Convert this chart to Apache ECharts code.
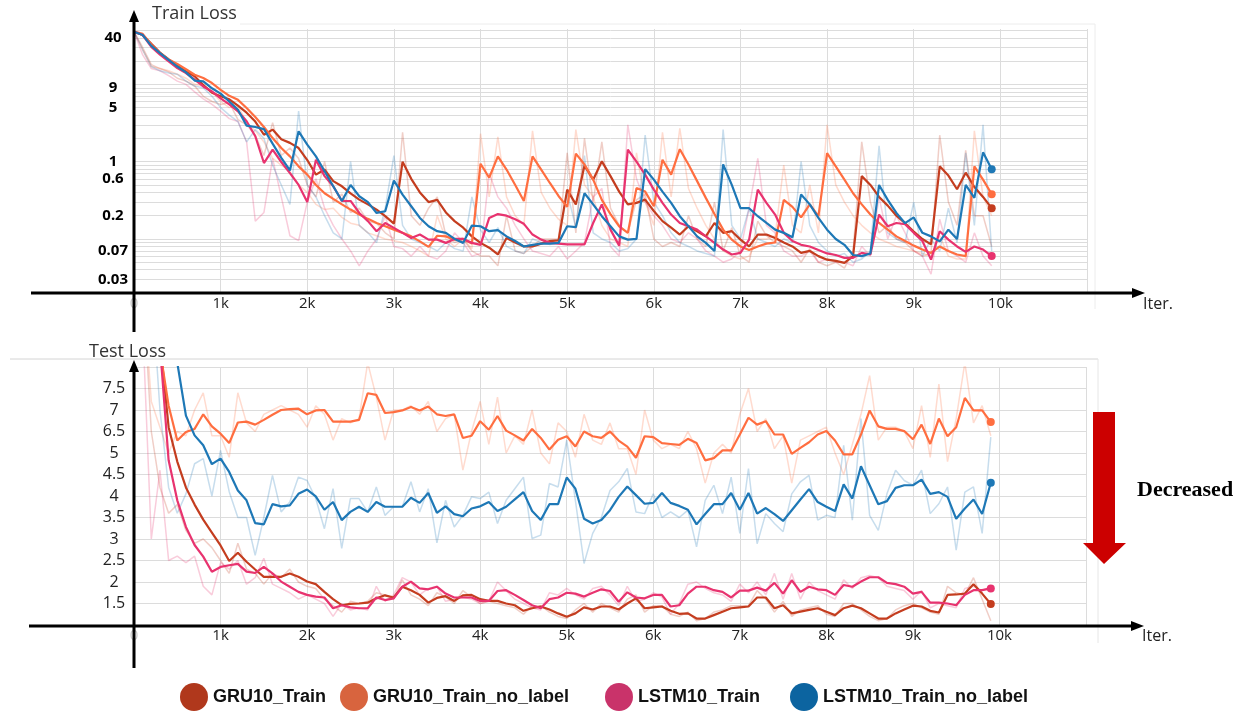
<!DOCTYPE html>
<html>
<head>
<meta charset="utf-8">
<script src="https://cdn.jsdelivr.net/npm/echarts@6/dist/echarts.min.js"></script>
<style>
html,body{margin:0;padding:0;background:#fff;}
#chart{width:1248px;height:713px;}
</style>
</head>
<body>
<div id="chart"></div>
<script>
// ---------------- DATA ----------------
const ITER_STEP = 100; // one logged point every 100 iterations
const seriesNames = ['GRU10_Train', 'GRU10_Train_no_label', 'LSTM10_Train', 'LSTM10_Train_no_label'];
const xTickLabels = ['0', '1k', '2k', '3k', '4k', '5k', '6k', '7k', '8k', '9k', '10k'];
const topYTickValues = [40, 9, 5, 1, 0.6, 0.2, 0.07, 0.03];
const topGridValues = [0.03, 0.04, 0.05, 0.06, 0.07, 0.08, 0.09, 0.1, 0.2, 0.3, 0.4, 0.5, 0.6, 0.7, 0.8, 0.9,
  1, 2, 3, 4, 5, 6, 7, 8, 9, 10, 20, 30, 40, 50];
const bottomYTickLabels = ['1.5', '2', '2.5', '3', '3.5', '4', '4.5', '5', '6.5', '7', '7.5'];

// Train loss (smoothed)
const topGRU = [48,43.5,33.4,25.8,21,17.4,14.7,12.7,9.8,7.8, 7.0,6.4,5.3,4.3,3.3,2.23,2.6,1.95,1.75,1.5,
  1.05,0.68,0.79,0.56,0.48,0.39,0.323,0.28,0.24,0.197, 0.158,1.0,0.6,0.40,0.30,0.32,0.22,0.17,0.14,0.108,
  0.089,0.077,0.063,0.103,0.09,0.08,0.08,0.087,0.094,0.096, 0.435,0.28,0.89,0.585,1.01,0.65,0.41,0.28,0.293,0.323,
  0.23,0.17,0.14,0.114,0.146,0.126,0.108,0.161,0.12,0.126, 0.098,0.08,0.114,0.114,0.103,0.09,0.08,0.066,0.07,0.06,
  0.054,0.052,0.049,0.06,0.65,0.5,0.35,0.27,0.2,0.16, 0.125,0.1,0.085,0.87,0.66,0.44,0.72,0.47,0.35,0.25];
const topGRUNoLabel = [48,45,32.5,25.3,21,18.3,15.7,13.3,12.1,10.4, 8.5,7.1,6.3,4.95,3.78,2.81,2.02,1.5,1.17,0.87,
  0.68,0.5,0.39,0.33,0.28,0.24,0.207,0.182,0.161,0.146, 0.132,0.12,0.108,0.093,0.079,0.11,0.108,0.098,0.10,0.087,
  0.94,0.62,1.17,0.79,0.50,0.31,1.17,0.79,0.53,0.36, 0.26,1.27,0.92,0.585,0.32,0.21,0.146,0.12,0.455,0.41,
  0.265,1.06,0.68,1.45,0.92,0.56,0.34,0.21,0.132,0.098, 0.08,0.072,0.08,0.087,0.09,0.32,0.26,0.19,0.28,0.197,
  1.29,0.87,0.585,0.39,0.28,0.207,0.161,0.132,0.108,0.094, 0.082,0.073,0.066,0.08,0.07,0.063,0.06,0.87,0.585,0.38];
const topLSTM = [48,43.5,30.5,24.2,19.8,16.2,14.0,11.5,9.4,8.1, 6.6,5.5,4.48,3.33,2.13,0.96,1.43,0.99,0.71,0.50,
  0.30,1.06,0.65,0.48,0.31,0.31,0.217,0.17,0.126,0.161, 0.139,0.12,0.103,0.114,0.098,0.098,0.089,0.1,0.1,0.089,
  0.084,0.187,0.21,0.2,0.18,0.157,0.114,0.098,0.089,0.087, 0.085,0.085,0.085,0.161,0.28,0.132,0.082,1.43,1.0,0.68,
  0.435,0.293,0.207,0.161,0.146,0.132,0.108,0.089,0.073,0.063, 0.066,0.098,0.435,0.293,0.207,0.12,0.094,0.084,0.08,0.072,
  0.065,0.062,0.057,0.057,0.066,0.063,0.207,0.146,0.161,0.155, 0.12,0.094,0.054,0.126,0.098,0.08,0.068,0.08,0.073,0.06];
const topLSTMNoLabel = [48,43.5,31.5,25.3,20.8,17,14.3,11.2,10.9,8.9, 7.6,6.0,4.7,2.92,2.81,2.64,1.71,1.12,0.77,2.47,
  1.66,1.17,0.75,0.48,0.31,0.50,0.357,0.30,0.217,0.228, 0.57,0.375,0.265,0.187,0.146,0.126,0.12,0.1,0.089,0.149,
  0.146,0.126,0.13,0.108,0.094,0.08,0.084,0.087,0.087,0.089, 0.146,0.142,0.39,0.28,0.197,0.146,0.108,0.098,0.1,0.8,
  0.585,0.41,0.293,0.197,0.146,0.108,0.089,0.07,0.92,0.5, 0.25,0.25,0.197,0.161,0.132,0.12,0.105,0.375,0.28,0.187,
  0.132,0.1,0.084,0.062,0.06,0.065,0.5,0.32,0.217,0.16, 0.19,0.12,0.108,0.093,0.132,0.1,0.5,0.34,1.32,0.8];

// Train loss (raw, faint)
const topGRURaw = [48,30,18,16,14.5,12,11,9.5,7,6, 5.5,5.8,3.5,3,2.2,1.2,3.2,1.2,1.5,1.1,
  0.5,0.35,1.0,0.3,0.38,0.22,0.25,0.17,0.16,0.12, 0.1,2.4,0.2,0.15,0.25,0.35,0.11,0.09,0.1,0.07,
  0.06,0.06,0.045,0.2,0.07,0.065,0.08,0.1,0.1,0.1, 1.3,0.12,2.0,0.3,1.8,0.25,0.15,0.12,0.32,0.38,
  0.1,0.08,0.09,0.08,0.2,0.1,0.08,0.3,0.07,0.14, 0.06,0.05,0.17,0.11,0.09,0.08,0.07,0.05,0.075,0.05,
  0.045,0.05,0.042,0.07,1.8,0.3,0.12,0.15,0.1,0.09, 0.07,0.06,0.065,2.2,0.3,0.15,1.4,0.2,0.2,0.08];
const topGRUNoLabelRaw = [48,28,17,16,15,13.5,12,10,9.5,8, 6,5,5.3,3.2,2.5,1.8,1.1,0.9,0.75,0.5,
  0.4,0.28,0.24,0.25,0.19,0.16,0.15,0.12,0.11,0.1, 0.095,0.09,0.08,0.07,0.06,0.2,0.1,0.08,0.1,0.075,
  2.3,0.35,2.1,0.35,0.2,0.15,2.5,0.4,0.25,0.18, 0.15,2.6,0.5,0.35,0.15,0.1,0.09,0.08,1.3,0.3,
  0.15,2.4,0.35,2.7,0.45,0.25,0.15,0.1,0.07,0.06, 0.055,0.06,0.1,0.1,0.11,0.9,0.15,0.12,0.5,0.12,
  3.0,0.5,0.3,0.2,0.15,0.12,0.1,0.09,0.08,0.075, 0.07,0.065,0.06,0.11,0.06,0.055,0.055,2.5,0.35,0.2];
const topLSTMRaw = [48,24,16,15,13,11,10,8,6.5,5.5, 4.5,3.6,3.3,1.8,0.17,0.22,1.1,0.35,0.11,0.095,
  0.3,0.6,0.25,0.15,0.1,0.07,0.045,0.07,0.1,0.2, 0.08,0.075,0.06,0.08,0.06,0.055,0.07,0.12,0.09,0.06,
  0.065,0.7,0.35,0.25,0.15,0.1,0.07,0.065,0.06,0.08, 0.055,0.07,0.09,0.35,0.45,0.08,0.06,3.0,0.6,0.3,
  0.2,0.15,0.1,0.09,0.12,0.1,0.07,0.06,0.05,0.055, 0.07,0.25,1.1,0.15,0.12,0.07,0.06,0.06,0.07,0.05,
  0.055,0.05,0.05,0.045,0.08,0.06,0.35,0.1,0.2,0.12, 0.07,0.06,0.035,0.18,0.07,0.06,0.05,0.12,0.06,0.045];
const topLSTMNoLabelRaw = [48,28,17,15,14,13.5,11,9.5,9,7, 5,4,3.3,1.8,2.6,2.0,0.9,0.5,0.28,4.5,
  0.5,0.35,0.2,0.12,0.1,1.0,0.15,0.12,0.09,0.25, 1.2,0.15,0.1,0.09,0.08,0.07,0.09,0.075,0.07,0.35,
  0.13,0.09,0.14,0.08,0.07,0.065,0.1,0.09,0.085,0.09, 0.4,0.14,1.2,0.12,0.1,0.09,0.07,0.075,0.1,2.2,
  0.3,0.2,0.12,0.09,0.08,0.07,0.065,0.06,2.6,0.15, 0.1,0.25,0.1,0.09,0.08,0.1,0.09,1.0,0.15,0.09,
  0.07,0.06,0.065,0.05,0.055,0.07,1.6,0.12,0.1,0.09, 0.3,0.06,0.1,0.07,0.25,0.09,1.3,0.15,3.0,0.07];

// Test loss (smoothed)
const botGRU = [20,14,10,7.6,5.6,4.8,4.2,3.8,3.45,3.15, 2.85,2.49,2.68,2.47,2.29,2.12,2.12,2.12,2.2,2.12,
  2.01,1.95,1.77,1.6,1.46,1.49,1.5,1.52,1.62,1.69, 1.64,1.89,1.81,1.7,1.52,1.63,1.67,1.56,1.69,1.7,
  1.6,1.56,1.56,1.5,1.46,1.33,1.39,1.43,1.36,1.27, 1.19,1.27,1.41,1.36,1.43,1.43,1.36,1.5,1.62,1.39,
  1.41,1.43,1.33,1.26,1.27,1.15,1.15,1.23,1.31,1.39, 1.41,1.43,1.64,1.64,1.39,1.46,1.27,1.31,1.35,1.39,
  1.31,1.23,1.39,1.45,1.39,1.27,1.15,1.15,1.27,1.36, 1.45,1.43,1.33,1.29,1.7,1.71,1.73,1.95,1.73,1.49];
const botGRUNoLabel = [20,14,10,7.4,6.1,5.29,5.49,5.56,5.9,5.62, 5.45,5.23,5.71,5.73,5.66,5.77,5.89,6.0,6.02,6.03,
  5.9,5.99,6.0,5.73,5.73,5.73,5.77,6.39,6.35,5.93, 5.95,5.99,6.07,5.99,6.08,5.9,5.86,5.9,5.35,5.4,
  5.74,5.54,5.86,5.52,5.41,5.29,5.56,5.35,5.08,5.31, 5.39,5.15,5.5,5.39,5.35,5.5,5.29,5.15,4.89,5.39,
  5.37,5.23,5.21,5.19,5.33,5.23,4.83,4.88,5.06,5.06, 5.43,5.82,5.66,5.74,5.43,5.43,4.98,5.12,5.25,5.43,
  5.51,5.29,4.97,4.97,5.43,5.99,5.62,5.56,5.56,5.51, 5.32,5.66,5.21,5.8,5.39,5.6,6.28,5.99,5.99,5.72];
const botLSTM = [20,14,10,7.5,4.83,3.9,3.28,2.86,2.59,2.24, 2.35,2.39,2.42,2.24,2.21,2.35,2.2,2.01,1.89,1.77,
  1.7,1.66,1.64,1.39,1.46,1.41,1.39,1.39,1.64,1.58, 1.62,1.89,2.01,1.85,1.83,1.89,1.73,1.64,1.64,1.64,
  1.56,1.56,1.79,1.81,1.7,1.58,1.46,1.39,1.6,1.64, 1.75,1.73,1.66,1.75,1.83,1.79,1.54,1.76,1.64,1.62,
  1.7,1.7,1.43,1.46,1.73,1.89,1.89,1.81,1.77,1.64, 1.8,1.8,1.87,1.8,1.98,1.73,2.04,1.77,1.89,1.83,
  1.81,1.7,1.93,1.89,2.01,2.11,2.11,1.98,1.95,1.89, 1.73,1.77,1.52,1.52,1.5,1.46,1.7,1.81,1.81,1.85];
const botLSTMNoLabel = [30,20,14,11,9.5,7.1,5.87,5.41,5.18,4.74, 4.87,4.56,4.13,3.9,3.37,3.34,3.81,3.76,3.78,4.05,
  4.15,3.99,3.68,3.86,3.44,3.63,3.75,3.63,3.86,3.75, 3.75,3.75,3.96,3.84,4.07,3.61,3.76,3.58,3.53,3.71,
  3.76,3.86,3.65,3.75,3.92,4.09,3.65,3.44,3.81,3.81, 4.43,4.17,3.47,3.36,3.44,3.67,3.98,4.22,4.02,3.82,
  3.84,4.07,3.84,3.77,3.68,3.34,3.58,3.81,3.81,4.07, 3.68,4.07,3.59,3.72,3.58,3.42,3.67,3.92,4.16,3.86,
  3.75,3.65,4.27,3.94,4.69,4.25,3.81,3.88,4.19,4.25, 4.25,4.38,4.05,4.09,3.98,3.47,3.71,3.92,3.58,4.31];

// Test loss (raw, faint)
const botGRURaw = [20,9,5.5,4.2,3.6,3.8,3.2,2.9,3.0,2.8, 2.5,2.2,2.9,2.3,2.2,1.95,2.2,2.1,2.3,2.0,
  1.9,1.85,1.6,1.45,1.3,1.55,1.5,1.55,1.75,1.7, 1.6,2.05,1.7,1.6,1.45,1.75,1.65,1.5,1.8,1.65,
  1.5,1.55,1.5,1.45,1.4,1.25,1.45,1.45,1.3,1.2, 1.15,1.35,1.5,1.3,1.5,1.4,1.3,1.6,1.7,1.3,
  1.45,1.45,1.25,1.2,1.3,1.1,1.15,1.3,1.35,1.45, 1.45,1.45,1.8,1.6,1.3,1.55,1.2,1.35,1.4,1.45,
  1.25,1.2,1.5,1.5,1.35,1.2,1.1,1.15,1.35,1.45, 1.5,1.4,1.3,1.25,1.9,1.75,1.7,2.1,1.6,1.1];
const botGRUNoLabelRaw = [20,9,6.2,5.6,5.0,5.5,5.4,6.0,6.4,5.4, 5.4,4.9,6.4,5.7,5.5,5.9,6.0,6.1,6.0,5.9,
  5.6,6.1,5.9,5.3,5.8,5.7,5.8,7.1,6.3,5.3, 6.0,6.0,6.1,5.9,6.2,5.5,5.8,5.9,4.6,5.5,
  6.2,5.2,6.3,5.0,5.4,5.2,6.0,5.0,4.75,5.7, 5.5,4.9,5.9,5.3,5.2,5.7,5.1,5.1,4.5,6.0,
  5.3,5.1,5.2,5.1,5.5,5.1,4.3,5.0,5.2,5.0, 5.9,6.5,5.5,5.8,5.1,5.4,4.3,5.3,5.4,5.5,
  5.6,5.0,4.5,5.2,5.9,6.8,5.3,5.6,5.6,5.5, 5.1,6.1,4.9,6.6,4.8,5.8,7.1,5.7,6.1,5.4];
const botLSTMRaw = [20,8,3.0,4.6,2.5,2.6,2.45,2.6,1.9,1.7, 2.45,2.3,2.5,1.95,2.1,2.55,1.95,1.85,1.75,1.6,
  1.7,1.6,1.5,1.2,1.5,1.35,1.4,1.35,1.9,1.55, 1.7,2.1,2.0,1.7,1.85,1.9,1.55,1.6,1.65,1.6,
  1.5,1.55,2.0,1.8,1.6,1.5,1.4,1.35,1.75,1.7, 1.85,1.7,1.6,1.85,1.9,1.7,1.45,1.9,1.55,1.6,
  1.75,1.65,1.25,1.5,1.95,2.0,1.85,1.75,1.7,1.55, 1.95,1.75,2.0,1.7,2.2,1.6,2.2,1.6,2.0,1.8,
  1.7,1.6,2.05,1.85,2.1,2.15,2.1,1.9,1.85,1.8, 1.6,1.8,1.4,1.5,1.45,1.4,1.85,1.9,1.8,1.9];
const botLSTMNoLabelRaw = [30,15,9,6,4.2,3.6,4.05,4.75,4.87,4.0, 5.06,4.1,3.5,3.5,2.62,3.5,4.48,3.63,3.86,4.44,
  4.36,3.94,3.24,4.17,2.78,3.94,3.94,3.63,4.21,3.55, 3.75,3.75,4.33,3.63,4.17,2.91,3.9,3.28,3.55,3.98,
  3.94,4.09,3.36,3.9,4.17,4.44,3.01,3.09,4.29,4.21, 5.3,3.9,2.43,3.13,3.5,4.13,4.33,4.64,3.63,3.59,
  4.05,3.5,3.63,3.5,3.67,2.82,3.9,4.25,3.59,4.44, 3.13,4.64,2.89,3.59,3.36,3.17,4.05,4.33,4.48,3.44,
  3.55,3.5,5.18,3.44,5.8,3.55,3.2,4.05,4.6,4.36, 4.25,4.6,3.59,3.82,4.21,2.74,4.09,4.21,3.13,5.37];

// ---------------- STYLE / LAYOUT ----------------
const LINE_COLORS = ['#C43D1F', '#FF6E40', '#E8336F', '#1E78B6'];
const LEGEND_COLORS = ['#B0381C', '#D8643E', '#C9336A', '#0C64A0'];
const LEGEND_LEFT = [180, 340, 605, 790];
const GRIDS = [
  { left: 134, top: 29, width: 953, height: 264 },
  { left: 134, top: 367, width: 952, height: 258 }
];

const panels = [
  { smooth: [topGRU, topGRUNoLabel, topLSTM, topLSTMNoLabel],
    raw: [topGRURaw, topGRUNoLabelRaw, topLSTMRaw, topLSTMNoLabelRaw] },
  { smooth: [botGRU, botGRUNoLabel, botLSTM, botLSTMNoLabel],
    raw: [botGRURaw, botGRUNoLabelRaw, botLSTMRaw, botLSTMNoLabelRaw] }
];

function toPairs(vals) { return vals.map((v, i) => [i * ITER_STEP, v]); }

const series = [];
// helper series carrying the log-scale grid lines of the top panel
series.push({
  type: 'line', xAxisIndex: 0, yAxisIndex: 0, data: [[0, 0.03]], showSymbol: false,
  lineStyle: { opacity: 0 }, silent: true, z: 1,
  markLine: {
    z: 1, silent: true, symbol: ['none', 'none'], animation: false,
    label: { show: false },
    lineStyle: { color: '#dcdcdc', width: 1, type: 'solid' },
    emphasis: { disabled: true },
    data: topGridValues.map(v => ({ yAxis: v }))
  }
});
// helper series carrying the tick labels of the top (log) axis
series.push({
  type: 'line', xAxisIndex: 0, yAxisIndex: 0, data: [[0, 0.03]], showSymbol: false,
  lineStyle: { opacity: 0 }, silent: true, z: 1,
  markLine: {
    z: 1, silent: true, symbol: ['none', 'none'], animation: false,
    lineStyle: { color: 'rgba(0,0,0,0)', width: 0, type: 'solid' },
    emphasis: { disabled: true },
    label: { show: true, position: 'start', distance: 21, align: 'center', formatter: '{b}',
      fontFamily: 'Noto Sans', fontWeight: 'bold', fontSize: 15, color: '#000', opacity: 1 },
    data: topYTickValues.map(v => ({ yAxis: v, name: String(v) }))
  }
});

panels.forEach((p, k) => {
  p.raw.forEach((vals, s) => {
    series.push({
      name: seriesNames[s], type: 'line', xAxisIndex: k, yAxisIndex: k,
      data: toPairs(vals), showSymbol: false, z: 2, silent: true,
      lineStyle: { width: 1.5, color: LINE_COLORS[s], opacity: 0.25 },
      itemStyle: { color: LINE_COLORS[s] }
    });
  });
  p.smooth.forEach((vals, s) => {
    const last = vals.length - 1;
    series.push({
      name: seriesNames[s], type: 'line', xAxisIndex: k, yAxisIndex: k,
      data: toPairs(vals), showSymbol: true, showAllSymbol: true, symbol: 'circle',
      symbolSize: (v, prm) => (prm.dataIndex === last ? 8 : 0),
      z: 3, silent: true,
      lineStyle: { width: 2.2, color: LINE_COLORS[s] },
      itemStyle: { color: LINE_COLORS[s] }
    });
  });
});

function xAxisFor(k) {
  return {
    gridIndex: k, type: 'value', min: 0, max: 11000, interval: 1000,
    axisLine: { show: false }, axisTick: { show: false },
    splitLine: { show: true, lineStyle: { color: '#dcdcdc', width: 1 } },
    axisLabel: {
      margin: 3, fontSize: 15, color: '#222', fontFamily: 'Open Sans',
      showMaxLabel: false,
      formatter: v => {
        const idx = Math.round(v / 1000);
        if (idx === 0) return '{z|' + xTickLabels[0] + '}';
        return xTickLabels[idx] !== undefined ? xTickLabels[idx] : '';
      },
      rich: { z: { color: '#c8c8c8', fontSize: 15, fontFamily: 'Open Sans' } }
    },
    name: 'Iter.', nameLocation: 'end', nameGap: 56,
    nameTextStyle: { fontSize: 16, color: '#222', fontFamily: 'Open Sans', align: 'left',
      verticalAlign: 'top', padding: [3, 0, 0, 0] }
  };
}

const lineStyleAxis = { stroke: '#000', lineWidth: 3 };
const graphic = [
  // faint frame remnants
  { type: 'line', shape: { x1: 240, y1: 24, x2: 1095, y2: 24 }, style: { stroke: '#ececec', lineWidth: 1 } },
  { type: 'line', shape: { x1: 1095, y1: 24, x2: 1095, y2: 309 }, style: { stroke: '#ececec', lineWidth: 1 } },
  { type: 'line', shape: { x1: 10, y1: 359, x2: 1098, y2: 359 }, style: { stroke: '#d4d4d4', lineWidth: 1 } },
  { type: 'line', shape: { x1: 1098, y1: 359, x2: 1098, y2: 643 }, style: { stroke: '#e6e6e6', lineWidth: 1 } },
  // top axes arrows
  { type: 'line', shape: { x1: 31, y1: 293, x2: 1136, y2: 293 }, style: lineStyleAxis, z: 10 },
  { type: 'polygon', shape: { points: [[1132, 288], [1145, 293], [1132, 298]] }, style: { fill: '#000' }, z: 10 },
  { type: 'line', shape: { x1: 134, y1: 332, x2: 134, y2: 20 }, style: lineStyleAxis, z: 10 },
  { type: 'polygon', shape: { points: [[129, 22], [134, 10], [139, 22]] }, style: { fill: '#000' }, z: 10 },
  // bottom axes arrows
  { type: 'line', shape: { x1: 29, y1: 626, x2: 1135, y2: 626 }, style: lineStyleAxis, z: 10 },
  { type: 'polygon', shape: { points: [[1131, 621], [1144, 626], [1131, 631]] }, style: { fill: '#000' }, z: 10 },
  { type: 'line', shape: { x1: 134, y1: 668, x2: 134, y2: 370 }, style: lineStyleAxis, z: 10 },
  { type: 'polygon', shape: { points: [[129, 372], [134, 360], [139, 372]] }, style: { fill: '#000' }, z: 10 },
  // red "decreased" arrow
  { type: 'polygon', shape: { points: [[1093, 412], [1115, 412], [1115, 543], [1126, 543], [1104, 564], [1083, 543], [1093, 543]] },
    style: { fill: '#CC0000' }, z: 10 }
];

const legends = seriesNames.map((name, s) => ({
  data: [{ name: name, itemStyle: { color: LEGEND_COLORS[s], opacity: 1 } }],
  left: LEGEND_LEFT[s], top: 683, orient: 'horizontal', icon: 'circle',
  itemWidth: 28, itemHeight: 28, padding: 0,
  textStyle: { fontSize: 18, fontWeight: 'bold', fontFamily: 'Liberation Sans', color: '#111' }
}));

const option = {
  animation: false,
  backgroundColor: '#fff',
  title: [
    { text: 'Train Loss', left: 152, top: 5, padding: 0,
      textStyle: { fontSize: 18, fontWeight: 'normal', color: '#333', fontFamily: 'Open Sans' } },
    { text: 'Test Loss', left: 89, top: 343, padding: 0,
      textStyle: { fontSize: 18, fontWeight: 'normal', color: '#333', fontFamily: 'Open Sans' } },
    { text: 'Decreased', left: 1137, top: 479, padding: 0,
      textStyle: { fontSize: 22, fontWeight: 'bold', color: '#000', fontFamily: 'Liberation Serif' } }
  ],
  legend: legends,
  grid: GRIDS,
  xAxis: [xAxisFor(0), xAxisFor(1)],
  yAxis: [
    { gridIndex: 0, type: 'log', logBase: 10, min: 0.02, max: 52,
      axisLine: { show: false }, axisTick: { show: false }, axisLabel: { show: false },
      splitLine: { show: false } },
    { gridIndex: 1, type: 'value', min: 1, max: 7, interval: 0.5,
      axisLine: { show: false }, axisTick: { show: false },
      splitLine: { show: true, lineStyle: { color: '#dcdcdc', width: 1 } },
      axisLabel: {
        align: 'center', margin: 20, fontSize: 16, color: '#222', fontFamily: 'Open Sans',
        formatter: v => {
          const k = Math.round((v - 1.5) / 0.5);
          return (k >= 0 && k < bottomYTickLabels.length) ? bottomYTickLabels[k] : '';
        }
      } }
  ],
  graphic: graphic,
  series: series
};

const chart = echarts.init(document.getElementById('chart'), null, { renderer: 'canvas' });
chart.setOption(option);
</script>
</body>
</html>
